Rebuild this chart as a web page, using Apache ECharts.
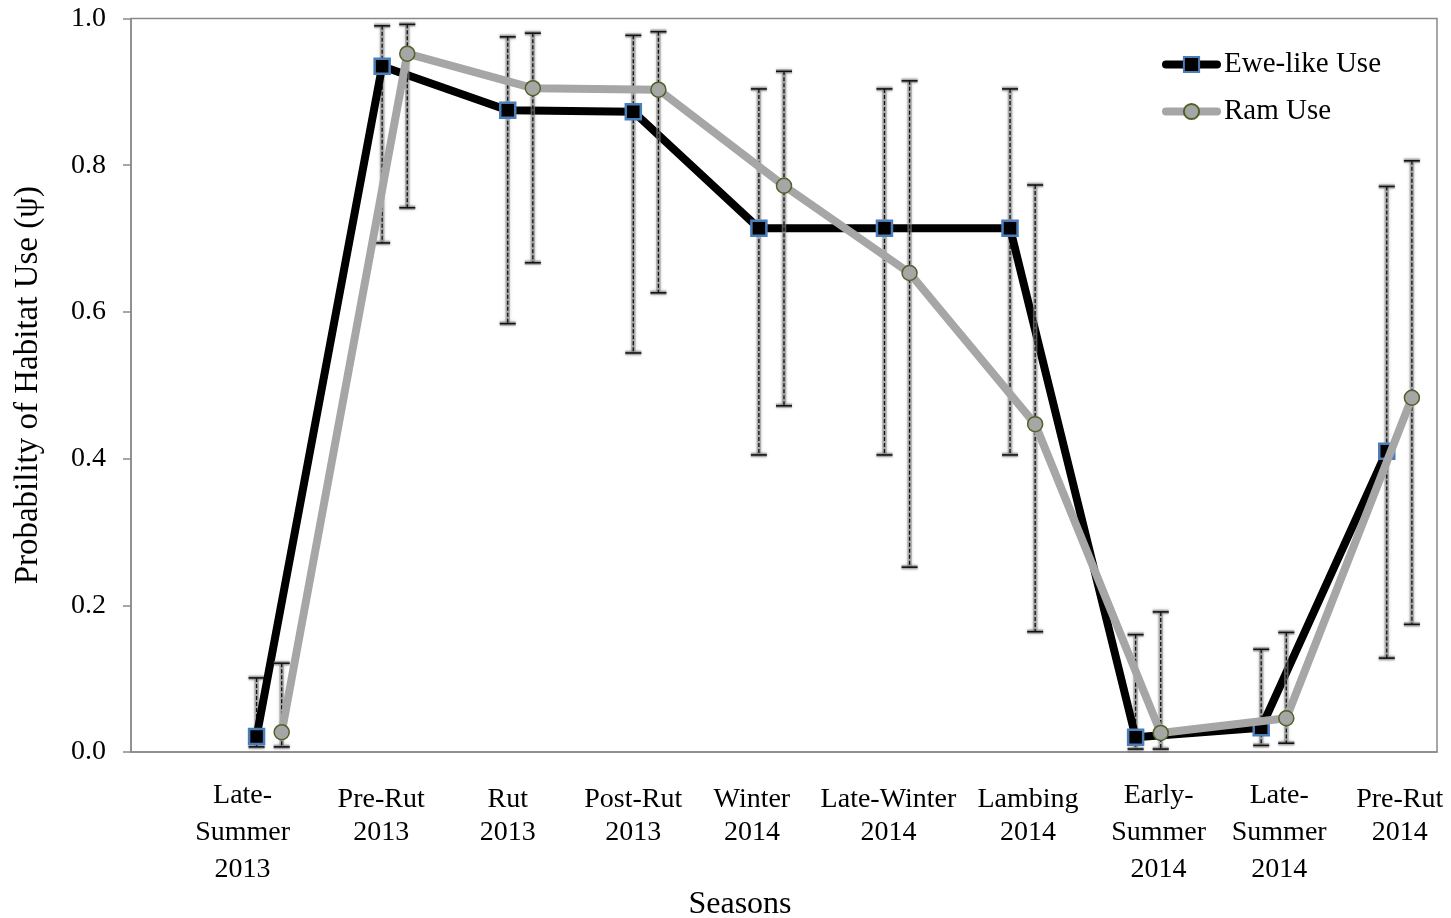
<!DOCTYPE html>
<html>
<head>
<meta charset="utf-8">
<title>Probability of Habitat Use by Season</title>
<script src="https://cdn.jsdelivr.net/npm/echarts@6/dist/echarts.min.js"></script>
<style>
  html, body { margin: 0; padding: 0; background: #fff; }
  #chart { width: 1451px; height: 918px; }
</style>
</head>
<body>
<div id="chart"></div>
<script>
// Seasons along the x axis (line breaks as set in the axis labels)
const seasons = [
  'Late-\nSummer\n2013', 'Pre-Rut\n2013', 'Rut\n2013', 'Post-Rut\n2013', 'Winter\n2014',
  'Late-Winter\n2014', 'Lambing\n2014', 'Early-\nSummer\n2014', 'Late-\nSummer\n2014', 'Pre-Rut\n2014'
];

// Ewe-like use: estimate with lower / upper confidence limits
const eweUse   = [0.021, 0.935, 0.875, 0.873, 0.714, 0.714, 0.714, 0.020, 0.033, 0.410];
const eweLower = [0.007, 0.694, 0.584, 0.544, 0.405, 0.405, 0.405, 0.004, 0.009, 0.128];
const eweUpper = [0.101, 0.990, 0.975, 0.977, 0.904, 0.904, 0.904, 0.160, 0.140, 0.771];

// Ram use: estimate with lower / upper confidence limits
const ramUse   = [0.027, 0.952, 0.905, 0.903, 0.772, 0.653, 0.447, 0.026, 0.046, 0.483];
const ramLower = [0.007, 0.742, 0.667, 0.626, 0.472, 0.252, 0.164, 0.004, 0.012, 0.174];
const ramUpper = [0.121, 0.992, 0.980, 0.982, 0.928, 0.915, 0.773, 0.191, 0.163, 0.806];

// Y-axis tick values
const yTicks = [0.0, 0.2, 0.4, 0.6, 0.8, 1.0];

const FONT = "'Liberation Serif', 'Times New Roman', serif";
const RAM_SHIFT = 0.2;          // ram points sit just right of the ewe points
const labelNudge = [-14, -1, 0, 0, -7, 4, 18, 23, 18, 13]; // horizontal label nudges (px)

// Rich-text styles so each season label can be nudged individually
const rich = {};
seasons.forEach((s, i) => {
  const dx = labelNudge[i];
  const padX = dx >= 0 ? [0, 0, 0, 2 * dx] : [0, -2 * dx, 0, 0];
  const twoLine = s.split('\n').length === 2;
  const base = { fontFamily: FONT, fontSize: 28, lineHeight: 37, color: '#000' };
  rich['a' + i] = Object.assign({}, base, { padding: [twoLine ? 9 : 0, padX[1], 0, padX[3]] });
  rich['b' + i] = Object.assign({}, base, { padding: padX });
});

function seasonLabel(v) {
  const i = Math.round(v) - 1;
  if (Math.abs(v - Math.round(v)) > 1e-6 || i < 0 || i >= seasons.length) return '';
  return seasons[i].split('\n').map((line, k) => `{${k === 0 ? 'a' : 'b'}${i}|${line}}`).join('\n');
}

function errorData(lower, upper, shift) {
  return lower.map((lo, i) => [i + 1 + shift, lo, upper[i]]);
}

function renderErrorBar(params, api) {
  const x = api.value(0);
  const top = api.coord([x, api.value(2)]);
  const bot = api.coord([x, api.value(1)]);
  const cap = 8;
  const halo = { stroke: 'rgba(140,140,140,0.6)', lineWidth: 4.5, shadowBlur: 3, shadowColor: 'rgba(0,0,0,0.35)' };
  const dash = { stroke: '#111', lineWidth: 1.3, lineDash: [4, 2] };
  const capStyle = { stroke: '#111', lineWidth: 1.6 };
  return {
    type: 'group',
    children: [
      { type: 'line', shape: { x1: top[0], y1: top[1], x2: bot[0], y2: bot[1] }, style: halo },
      { type: 'line', shape: { x1: top[0] - cap, y1: top[1], x2: top[0] + cap, y2: top[1] }, style: halo },
      { type: 'line', shape: { x1: bot[0] - cap, y1: bot[1], x2: bot[0] + cap, y2: bot[1] }, style: halo },
      { type: 'line', shape: { x1: top[0], y1: top[1], x2: bot[0], y2: bot[1] }, style: dash },
      { type: 'line', shape: { x1: top[0] - cap, y1: top[1], x2: top[0] + cap, y2: top[1] }, style: capStyle },
      { type: 'line', shape: { x1: bot[0] - cap, y1: bot[1], x2: bot[0] + cap, y2: bot[1] }, style: capStyle }
    ]
  };
}

const axisGrey = '#8a8a8a';

const option = {
  animation: false,
  backgroundColor: '#fff',
  grid: {
    left: 131, right: 14, top: 18.5, bottom: 166,
    outerBoundsMode: 'none',
    containLabel: false,
    show: true, borderColor: axisGrey, borderWidth: 1.5, backgroundColor: 'transparent'
  },
  legend: {
    data: ['Ewe-like Use', 'Ram Use'],
    orient: 'vertical',
    left: 1162, top: 50, padding: 0,
    itemWidth: 51, itemHeight: 19, itemGap: 18,
    lineStyle: { width: 8, cap: 'round' },
    textStyle: { fontFamily: FONT, fontSize: 29, color: '#000', padding: [0, 0, 0, 2] }
  },
  xAxis: {
    type: 'value',
    min: 0, max: 10.4, interval: 1,
    name: 'Seasons',
    nameLocation: 'middle',
    nameGap: 134,
    nameTextStyle: { fontFamily: FONT, fontSize: 32, color: '#000', padding: [0, 88, 0, 0] },
    axisLine: { show: true, lineStyle: { color: axisGrey, width: 1.5 } },
    axisTick: { show: false },
    splitLine: { show: false },
    axisLabel: { margin: 25, formatter: seasonLabel, rich: rich, color: '#000', fontFamily: FONT, fontSize: 28 }
  },
  yAxis: {
    type: 'value',
    min: yTicks[0], max: yTicks[yTicks.length - 1], interval: 0.2,
    name: 'Probability of Habitat Use (\u03C8)',
    nameLocation: 'middle',
    nameGap: 86,
    nameTextStyle: { fontFamily: FONT, fontSize: 33, color: '#000' },
    axisLine: { show: true, lineStyle: { color: axisGrey, width: 1.5 } },
    axisTick: { show: true, inside: false, length: 8, lineStyle: { color: axisGrey, width: 1.5 } },
    splitLine: { show: false },
    axisLabel: {
      margin: 25, color: '#000', fontFamily: FONT, fontSize: 28,
      formatter: v => v.toFixed(1)
    }
  },
  series: [
    {
      type: 'custom',
      renderItem: renderErrorBar,
      data: errorData(eweLower, eweUpper, 0),
      encode: { x: 0, y: [1, 2] },
      z: 1, silent: true
    },
    {
      name: 'Ewe-like Use',
      type: 'line',
      data: eweUse.map((v, i) => [i + 1, v]),
      symbol: 'rect',
      symbolSize: 15,
      lineStyle: { color: '#000', width: 8 },
      itemStyle: { color: '#000', borderColor: '#4A7EBB', borderWidth: 2.5 },
      z: 2
    },
    {
      type: 'custom',
      renderItem: renderErrorBar,
      data: errorData(ramLower, ramUpper, RAM_SHIFT),
      encode: { x: 0, y: [1, 2] },
      z: 3, silent: true
    },
    {
      name: 'Ram Use',
      type: 'line',
      data: ramUse.map((v, i) => [i + 1 + RAM_SHIFT, v]),
      symbol: 'circle',
      symbolSize: 15,
      lineStyle: { color: '#A6A6A6', width: 8 },
      itemStyle: { color: '#A6A6A6', borderColor: '#4F6228', borderWidth: 1.5 },
      z: 4
    }
  ]
};

const chart = echarts.init(document.getElementById('chart'), null, { renderer: 'canvas' });
chart.setOption(option);
</script>
</body>
</html>
